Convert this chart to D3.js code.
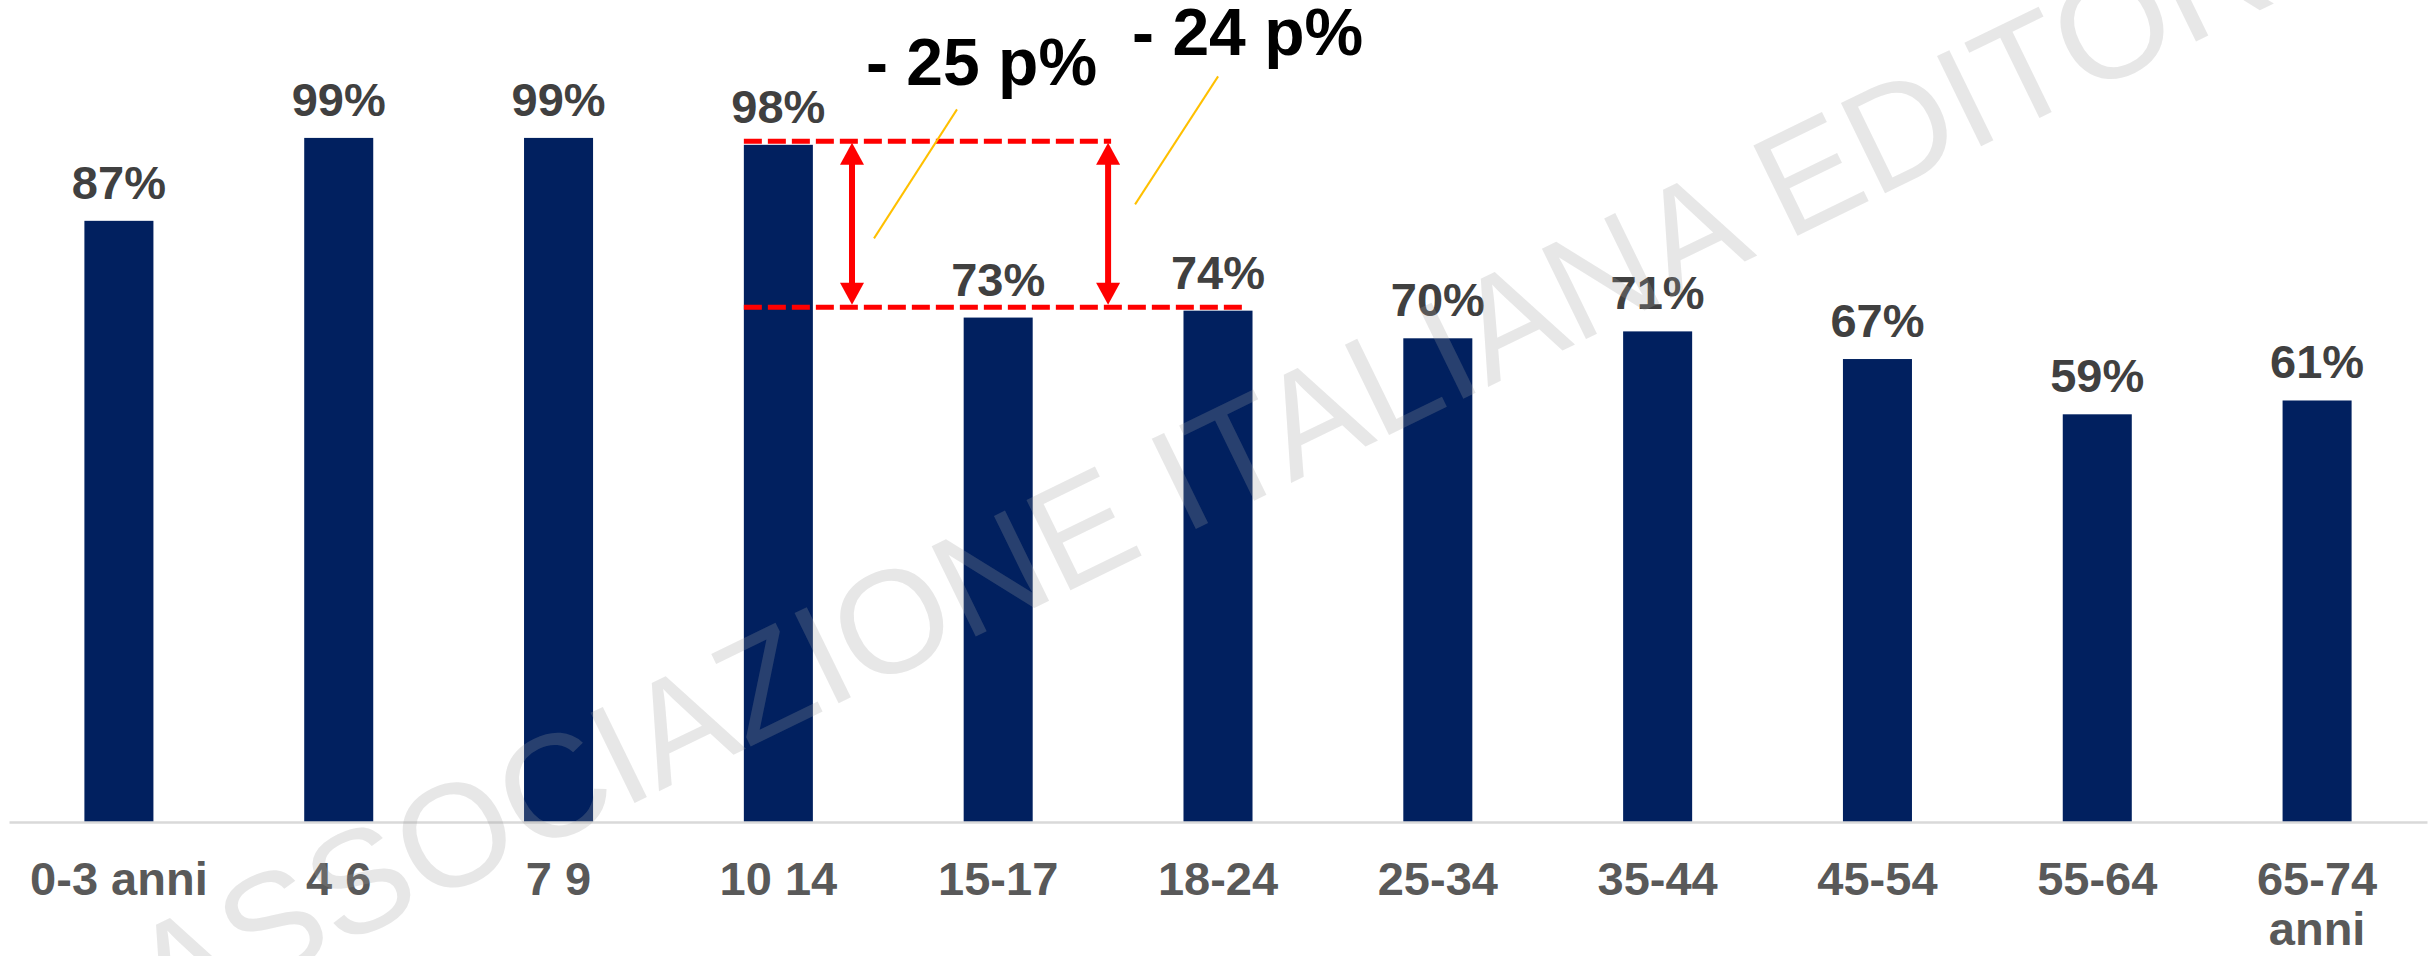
<!DOCTYPE html>
<html>
<head>
<meta charset="utf-8">
<script src="https://cdn.jsdelivr.net/npm/d3@7"></script>
<style>
  html, body { margin: 0; padding: 0; background: #ffffff; }
  svg { display: block; }
  text { font-family: "Liberation Sans", Arial, Helvetica, sans-serif; }
</style>
</head>
<body>
<div id="chart"></div>
<script>
// ---- data ----
const categories = ["0-3 anni", "4 6", "7 9", "10 14", "15-17", "18-24", "25-34", "35-44", "45-54", "55-64", "65-74 anni"];
const values = [87, 99, 99, 98, 73, 74, 70, 71, 67, 59, 61];
// annotation: gap between the 10-14 level and the later levels
const gapHigh = 98.5;
const gapLow = 74.5;
const gapLabels = ["- 25 p%", "- 24 p%"];
const gapTargets = ["15-17", "18-24"];
const watermarkText = "ASSOCIAZIONE ITALIANA EDITORI";

// ---- layout ----
const W = 2433, H = 956;
const svg = d3.select("#chart").append("svg").attr("width", W).attr("height", H);

const x = d3.scaleBand().domain(categories).range([9, 2427]).paddingInner(0.686).paddingOuter(0.343);
const y = d3.scaleLinear().domain([0, 100]).range([822, 131]);
const step = x.step();
const cx = c => x(c) + x.bandwidth() / 2;

// bars
svg.append("g").selectAll("rect").data(values).join("rect")
  .attr("x", (d, i) => x(categories[i]))
  .attr("y", d => y(d))
  .attr("width", x.bandwidth())
  .attr("height", d => y(0) - y(d))
  .attr("fill", "#01205F");

// axis
const axis = svg.append("g").attr("transform", `translate(0,${y(0)})`)
  .call(d3.axisBottom(x).tickSize(0).tickPadding(0));
axis.select(".domain").attr("stroke", "#d9d9d9").attr("stroke-width", 2.5);
axis.selectAll(".tick text").remove();
axis.selectAll(".tick").each(function (c) {
  const g = d3.select(this);
  const t = g.append("text")
    .attr("text-anchor", "middle")
    .attr("fill", "#595959")
    .attr("font-weight", "bold")
    .attr("font-size", 47);
  // wrap words to the band step
  const words = c.split(" ");
  let lines = [], cur = [];
  words.forEach(w => {
    const trial = cur.concat([w]).join(" ");
    if (cur.length && trial.length * 47 * 0.5 > step) { lines.push(cur.join(" ")); cur = [w]; }
    else cur.push(w);
  });
  lines.push(cur.join(" "));
  lines.forEach((l, k) => t.append("tspan").attr("x", 0).attr("y", 73 + k * 50).text(l));
});

// value labels
svg.append("g").selectAll("text").data(values).join("text")
  .attr("x", (d, i) => cx(categories[i]))
  .attr("y", d => y(d) - 22)
  .attr("text-anchor", "middle")
  .attr("fill", "#404040")
  .attr("font-weight", "bold")
  .attr("font-size", 47)
  .text(d => d + "%");

// ---- gap annotation ----
const ann = svg.append("g");
const fromCat = "10 14";
const xStart = x(fromCat);
const arrowXs = [cx(fromCat) + 0.335 * step, cx(gapTargets[0]) + 0.5 * step];
const red = "#FF0000";

// dashed reference lines
ann.append("line")
  .attr("x1", xStart).attr("x2", arrowXs[1] + 3)
  .attr("y1", y(gapHigh)).attr("y2", y(gapHigh))
  .attr("stroke", red).attr("stroke-width", 5).attr("stroke-dasharray", "18,6");
ann.append("line")
  .attr("x1", xStart).attr("x2", cx(gapTargets[1]) + 24)
  .attr("y1", y(gapLow)).attr("y2", y(gapLow))
  .attr("stroke", red).attr("stroke-width", 5).attr("stroke-dasharray", "18,6");

// double arrows
arrowXs.forEach(ax => {
  const top = y(gapHigh) + 1.5, bot = y(gapLow) - 2.5, hl = 22, hw = 12;
  ann.append("line").attr("x1", ax).attr("x2", ax).attr("y1", top + hl - 2).attr("y2", bot - hl + 2)
    .attr("stroke", red).attr("stroke-width", 6);
  ann.append("path").attr("d", `M${ax},${top}L${ax + hw},${top + hl}L${ax - hw},${top + hl}Z`).attr("fill", red);
  ann.append("path").attr("d", `M${ax},${bot}L${ax + hw},${bot - hl}L${ax - hw},${bot - hl}Z`).attr("fill", red);
});

// leader lines and labels
const labelPos = [
  { tx: arrowXs[0] + 14, ty: y(gapHigh) - 56, lx1: arrowXs[0] + 105, ly1: y(gapHigh) - 32, lx2: arrowXs[0] + 22, ly2: y(gapHigh) + 97 },
  { tx: arrowXs[1] + 24, ty: y(gapHigh) - 86, lx1: arrowXs[1] + 110, ly1: y(gapHigh) - 65, lx2: arrowXs[1] + 27, ly2: y(gapHigh) + 63 }
];
gapLabels.forEach((lab, i) => {
  const p = labelPos[i];
  ann.append("line").attr("x1", p.lx1).attr("y1", p.ly1).attr("x2", p.lx2).attr("y2", p.ly2)
    .attr("stroke", "#FFC000").attr("stroke-width", 2);
  ann.append("text").attr("x", p.tx).attr("y", p.ty)
    .attr("fill", "#000000").attr("font-weight", "bold").attr("font-size", 66)
    .text(lab);
});

// watermark
svg.append("text")
  .attr("transform", "translate(163,1033) rotate(-26)")
  .attr("font-size", 146)
  .attr("fill", "#a0a0a0")
  .attr("fill-opacity", 0.25)
  .text(watermarkText);
</script>
</body>
</html>
